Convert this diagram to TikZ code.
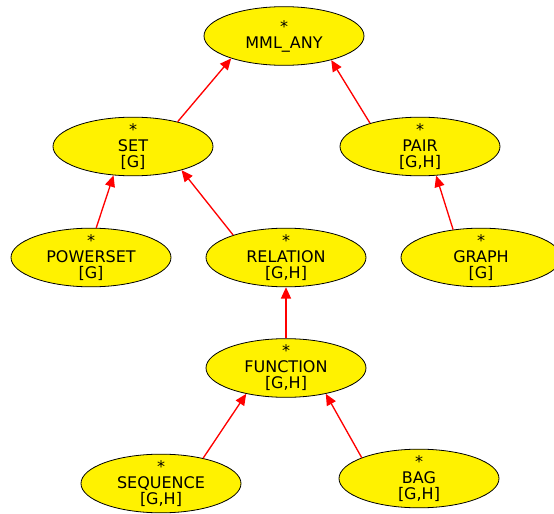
\documentclass[tikz,border=0pt]{standalone}
\usepackage{fontspec}
\setmainfont{DejaVu Sans}
\usepackage{tikz}
\usetikzlibrary{shapes.geometric,arrows.meta}

\begin{document}
\begin{tikzpicture}[x=0.75pt, y=-0.75pt,
  cls/.style={ellipse, draw, line width=0.6pt, fill=yellow, minimum width=120pt, minimum height=44pt,
    inner xsep=0pt, inner ysep=-3pt, align=center, font=\fontsize{12}{12}\selectfont},
  isa/.style={draw=red, line width=1pt, -{Triangle[length=8.5pt,width=7.5pt]}}]
\useasboundingbox (0,0) rectangle (554,514);
\node[cls] (mml) at (284,36) {*\\MML\_ANY};
\node[cls] (set) at (133,146.5) {*\\SET\\{[G]}};
\node[cls] (pair) at (420,146.5) {*\\PAIR\\{[G,H]}};
\node[cls] (powerset) at (91,257.5) {*\\POWERSET\\{[G]}};
\node[cls] (relation) at (286,257.5) {*\\RELATION\\{[G,H]}};
\node[cls] (graph) at (481,257.5) {*\\GRAPH\\{[G]}};
\node[cls] (function) at (286,368) {*\\FUNCTION\\{[G,H]}};
\node[cls] (sequence) at (161,483.5) {*\\SEQUENCE\\{[G,H]}};
\node[cls] (bag) at (419,478.5) {*\\BAG\\{[G,H]}};
% edges point at the parent
\foreach \a/\b in {set.29/mml.203.5, pair.155/mml.333, powerset.80/set.236, relation.157/set.334,
  graph.135/pair.299, function.90/relation.270, sequence.31/function.213, bag.160/function.327}
  \draw[isa] (\a) -- (\b);
\end{tikzpicture}
\end{document}
